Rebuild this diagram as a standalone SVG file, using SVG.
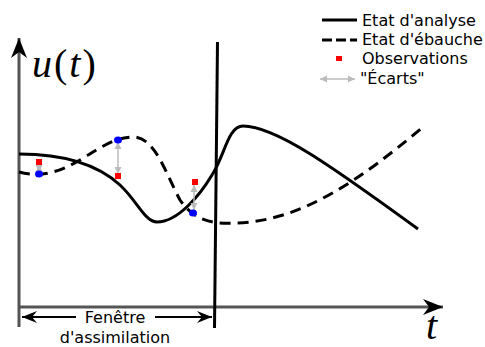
<svg xmlns="http://www.w3.org/2000/svg" width="485" height="347" viewBox="0 0 485 347">
<style>
.axis{stroke:#555;stroke-width:3;fill:none}
.ana{stroke:#000;stroke-width:3;fill:none}
.bg{stroke:#000;stroke-width:3;fill:none;stroke-dasharray:11 7}
.gap{stroke:#bbb;stroke-width:1.5;fill:none}
.obs{fill:#f00}
.dot{fill:#00f}
.lbl{font-family:"DejaVu Sans",sans-serif;font-size:16px;fill:#000}
.math{font-family:"Liberation Serif",serif;font-size:40px;fill:#000}
</style>
<defs>
<marker id="axArrow" markerUnits="userSpaceOnUse" markerWidth="30" markerHeight="20" viewBox="-22 -10 24 20" refX="0" refY="0" orient="auto">
<path d="M0,0 L-20,-8 L-14,0 L-20,8 Z" fill="#000"/>
</marker>
<marker id="winArrow" markerUnits="userSpaceOnUse" markerWidth="20" markerHeight="14" viewBox="-16 -7 18 14" refX="0" refY="0" orient="auto-start-reverse">
<path d="M0,0 L-15,-6 L-10,0 L-15,6 Z" fill="#000"/>
</marker>
<marker id="gapArrow" markerUnits="userSpaceOnUse" markerWidth="10" markerHeight="8" viewBox="-8 -4 9 8" refX="0" refY="0" orient="auto-start-reverse">
<path d="M0,0 L-7,-3.5 L-7,3.5 Z" fill="#bbb"/>
</marker>
</defs>
<g id="axes">
<line class="axis" x1="19" y1="327" x2="19" y2="38" marker-end="url(#axArrow)"/>
<line class="axis" x1="19" y1="307" x2="443" y2="307" marker-end="url(#axArrow)"/>
<text class="math" x="32" y="77" letter-spacing="2"><tspan font-style="italic">u</tspan>(<tspan font-style="italic">t</tspan>)</text>
<text class="math" x="426" y="339" font-size="36" font-style="italic">t</text>
</g>
<g id="window">
<line x1="217.5" y1="42" x2="214.5" y2="328" stroke="#000" stroke-width="3"/>
<line x1="22" y1="317" x2="76" y2="317" stroke="#000" stroke-width="2" marker-start="url(#winArrow)"/>
<line x1="155" y1="317" x2="212" y2="317" stroke="#000" stroke-width="2" marker-end="url(#winArrow)"/>
<text class="lbl" x="115" y="323" text-anchor="middle">Fenêtre</text>
<text class="lbl" x="115" y="343" text-anchor="middle">d'assimilation</text>
</g>
<g id="connectors">
<path id="analyse" class="ana" d="M19,154 C60,154 95,162 120,185 C138,202 145,222 157,222 C178,222 200,195 212,175 C225,155 228,126 243,126 C275,126 330,165 418,229"/>
<path id="ebauche" class="bg" d="M19,172 C40,178 60,172 80,160 C100,148 115,137 133,137 C155,137 165,172 180,200 C195,222 215,224 235,223 C300,222 360,180 423,127"/>
<line class="gap" x1="39" y1="165" x2="39" y2="172" marker-start="url(#gapArrow)" marker-end="url(#gapArrow)"/>
<line class="gap" x1="118" y1="142" x2="118" y2="174" marker-start="url(#gapArrow)" marker-end="url(#gapArrow)"/>
<line class="gap" x1="194" y1="185" x2="194" y2="210" marker-start="url(#gapArrow)" marker-end="url(#gapArrow)"/>
</g>
<g id="observations">
<rect class="obs" x="36" y="159" width="6" height="6"/>
<rect class="obs" x="115" y="173" width="6" height="6"/>
<rect class="obs" x="192" y="179" width="6" height="6"/>
</g>
<g id="background-points">
<ellipse class="dot" cx="39" cy="174" rx="4" ry="3.5"/>
<ellipse class="dot" cx="118" cy="140" rx="4" ry="3.5"/>
<ellipse class="dot" cx="193" cy="213" rx="4" ry="3.5"/>
</g>
<g id="legend">
<line x1="322" y1="20" x2="357" y2="20" stroke="#000" stroke-width="3"/>
<text class="lbl" x="362" y="26">Etat d'analyse</text>
<line x1="322" y1="40" x2="357" y2="40" stroke="#000" stroke-width="3" stroke-dasharray="10 4"/>
<text class="lbl" x="362" y="45">Etat d'ébauche</text>
<rect class="obs" x="336" y="56" width="6" height="5"/>
<text class="lbl" x="362" y="64">Observations</text>
<line class="gap" x1="320" y1="79" x2="355" y2="79" marker-start="url(#gapArrow)" marker-end="url(#gapArrow)"/>
<text class="lbl" x="360" y="84">"Écarts"</text>
</g>
</svg>
